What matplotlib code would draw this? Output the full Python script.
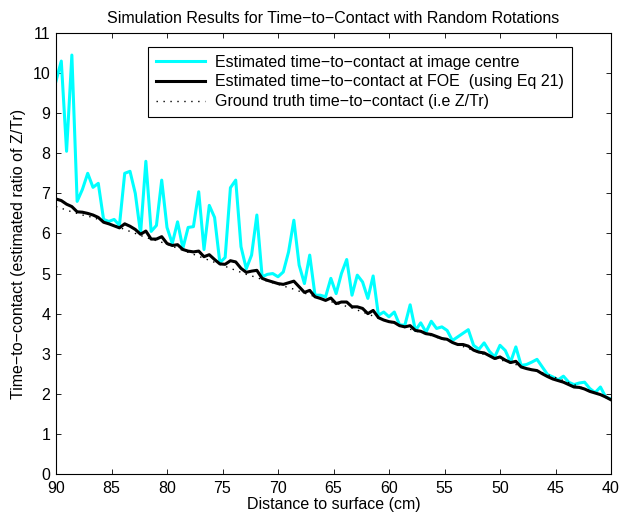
import numpy as np
import matplotlib
matplotlib.use("Agg")
import matplotlib.pyplot as plt

plt.rcParams['font.family'] = ['Liberation Sans', 'DejaVu Sans']

# Data (distance axis runs 90 -> 40 cm)
ttc_centre = [9.8, 10.3, 8.05, 10.45, 6.8, 7.1, 7.5, 7.15, 7.25, 6.35,
              6.3, 6.35, 6.2, 7.5, 7.55, 7.0, 6.0, 7.8, 6.05, 6.2,
              7.33, 6.15, 5.75, 6.29, 5.63, 6.15, 6.17, 7.04, 5.6, 6.7,
              6.4, 5.27, 5.4, 7.14, 7.33, 5.67, 5.12, 5.46, 6.46, 4.92,
              4.98, 5.0, 4.92, 5.04, 5.54, 6.33, 5.21, 4.75, 5.46, 4.46,
              4.46, 4.42, 4.88, 4.5, 5.0, 5.35, 4.46, 4.96, 4.79, 4.38,
              4.94, 3.96, 4.04, 3.92, 4.04, 3.72, 3.71, 4.22, 3.58, 3.77,
              3.54, 3.81, 3.63, 3.67, 3.58, 3.33, 3.42, 3.51, 3.6, 3.21,
              3.11, 3.27, 3.06, 2.92, 3.21, 3.08, 2.79, 3.17, 2.71, 2.73,
              2.79, 2.86, 2.67, 2.48, 2.42, 2.35, 2.44, 2.29, 2.23, 2.27,
              2.29, 2.13, 2.03, 2.17, 1.92, 1.87]

ttc_foe = [6.86, 6.82, 6.73, 6.67, 6.54, 6.53, 6.5, 6.46, 6.4, 6.28,
           6.24, 6.19, 6.14, 6.24, 6.18, 6.1, 5.98, 6.06, 5.86, 5.86,
           5.92, 5.75, 5.7, 5.72, 5.6, 5.56, 5.54, 5.56, 5.42, 5.47,
           5.35, 5.24, 5.23, 5.32, 5.29, 5.13, 5.03, 5.06, 5.08, 4.88,
           4.83, 4.79, 4.75, 4.73, 4.77, 4.81, 4.67, 4.53, 4.58, 4.42,
           4.38, 4.33, 4.39, 4.25, 4.29, 4.29, 4.17, 4.17, 4.13, 4.0,
           4.08, 3.9, 3.84, 3.8, 3.78, 3.7, 3.67, 3.7, 3.58, 3.56,
           3.5, 3.48, 3.43, 3.38, 3.36, 3.28, 3.23, 3.23, 3.19, 3.09,
           3.04, 3.02, 2.95, 2.88, 2.92, 2.84, 2.78, 2.81, 2.67, 2.63,
           2.6, 2.58, 2.5, 2.43, 2.37, 2.33, 2.29, 2.23, 2.17, 2.16,
           2.12, 2.06, 2.02, 1.98, 1.92, 1.85]

ttc_truth = [6.67, 6.63, 6.58, 6.54, 6.5, 6.46, 6.43, 6.4, 6.35, 6.3,
             6.25, 6.2, 6.15, 6.1, 6.05, 6.0, 5.95, 5.9, 5.86, 5.82,
             5.78, 5.73, 5.68, 5.63, 5.58, 5.53, 5.48, 5.43, 5.38, 5.33,
             5.28, 5.23, 5.18, 5.13, 5.08, 5.03, 4.98, 4.94, 4.9, 4.85,
             4.81, 4.77, 4.73, 4.69, 4.65, 4.61, 4.56, 4.51, 4.47, 4.42,
             4.38, 4.34, 4.3, 4.26, 4.22, 4.18, 4.14, 4.09, 4.04, 3.99,
             3.94, 3.89, 3.85, 3.8, 3.75, 3.7, 3.65, 3.61, 3.57, 3.53,
             3.49, 3.45, 3.41, 3.37, 3.33, 3.28, 3.23, 3.18, 3.13, 3.08,
             3.03, 2.98, 2.94, 2.89, 2.85, 2.81, 2.77, 2.73, 2.69, 2.65,
             2.61, 2.57, 2.53, 2.48, 2.43, 2.38, 2.33, 2.28, 2.23, 2.18,
             2.13, 2.08, 2.03, 1.98, 1.93, 1.87]

distance = np.linspace(90, 40, len(ttc_centre))

x_ticks = [90, 85, 80, 75, 70, 65, 60, 55, 50, 45, 40]
y_ticks = list(range(0, 12))

labels = ["Estimated time\u2212to\u2212contact at image centre",
          "Estimated time\u2212to\u2212contact at FOE  (using Eq 21)",
          "Ground truth time\u2212to\u2212contact (i.e Z/Tr)"]

FS = 11.5

fig = plt.figure(figsize=(6.21, 5.17), dpi=100)
ax = fig.add_axes([56 / 621, 1 - 474 / 517, 555 / 621, 441 / 517])

ax.plot(distance, ttc_centre, color='#00FFFF', lw=2.2, label=labels[0])
ax.plot(distance, ttc_foe, color='black', lw=2.2, label=labels[1])
ax.plot(distance, ttc_truth, color='black', lw=1.0, linestyle=(0, (1, 4)), label=labels[2])

ax.set_xlim(90, 40)
ax.set_ylim(0, 11)
ax.set_xticks(x_ticks)
ax.set_yticks(y_ticks)
ax.tick_params(direction='in', top=True, right=True, labelsize=FS, length=3.6, width=0.6)
ax.tick_params(axis='x', pad=5)
ax.tick_params(axis='y', pad=4)
for s in ax.spines.values():
    s.set_linewidth(0.8)

ax.set_xlabel("Distance to surface (cm)", fontsize=FS, labelpad=1)
ax.set_ylabel("Time\u2212to\u2212contact (estimated ratio of Z/Tr)", fontsize=FS, labelpad=5)
ax.set_title("Simulation Results for Time\u2212to\u2212Contact with Random Rotations", fontsize=FS, pad=7)

leg = ax.legend(loc='upper left', bbox_to_anchor=(0.165, 0.969), fontsize=FS,
                frameon=True, fancybox=False, edgecolor='black', framealpha=1,
                handlelength=3.1, handletextpad=0.6, borderpad=0.5, labelspacing=0.3,
                borderaxespad=0)
leg.get_frame().set_linewidth(0.8)

fig.savefig("out.png", dpi=100)
